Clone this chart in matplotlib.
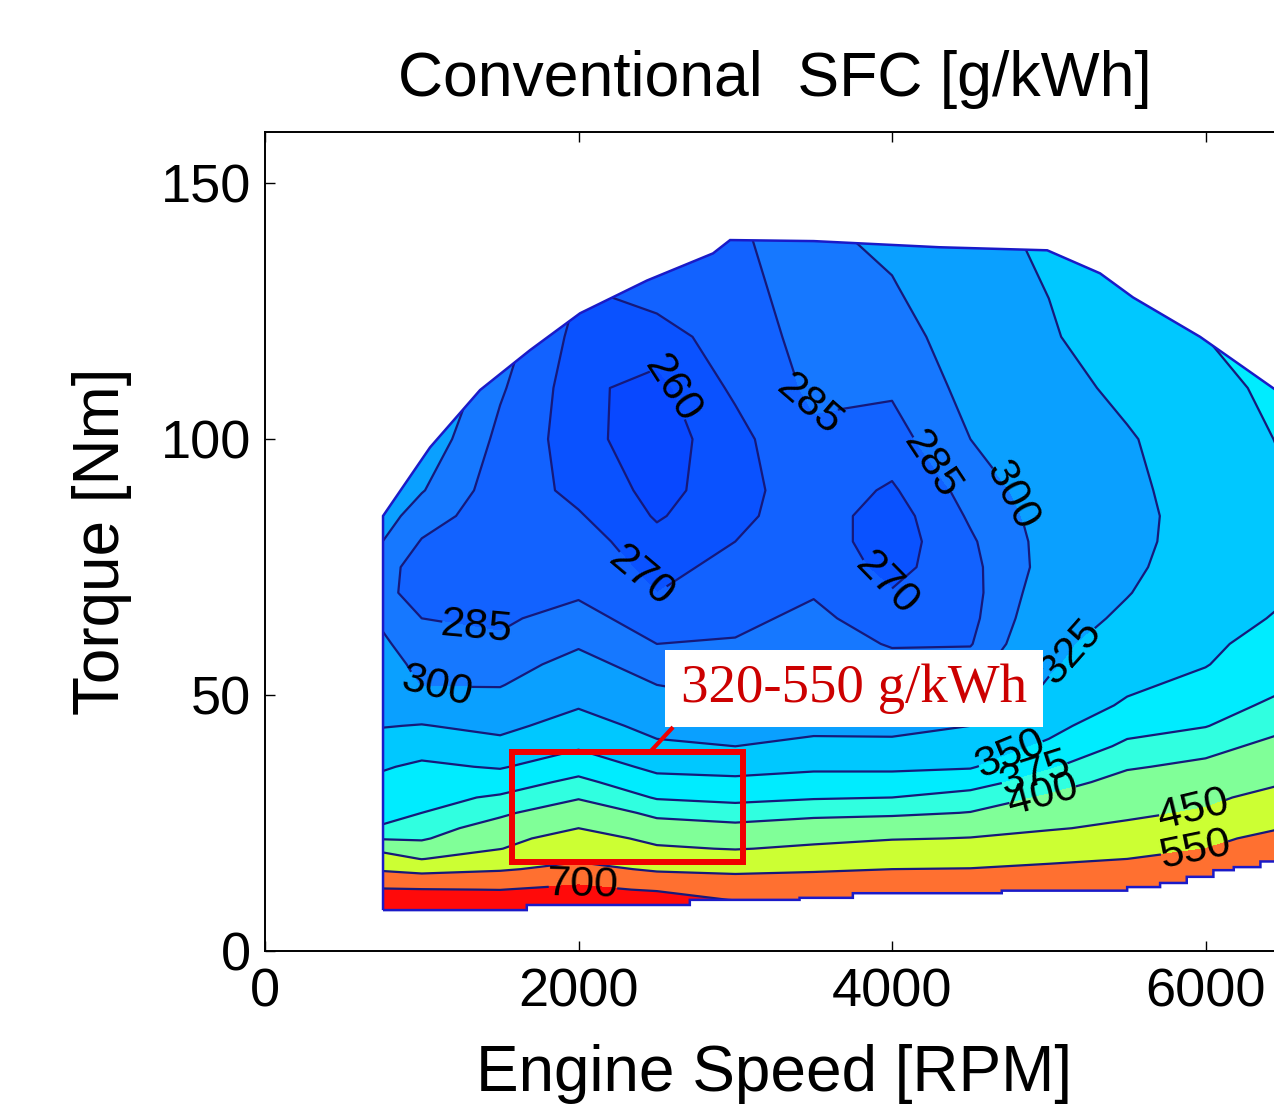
import numpy as np
import matplotlib
matplotlib.use("Agg")
import matplotlib.pyplot as plt
from matplotlib.patches import Polygon, Rectangle

plt.rcParams['font.family'] = ['Liberation Sans', 'DejaVu Sans']

# ---- data ------------------------------------------------------------------
# grid nodes: engine speed columns [RPM] and torque rows [Nm]
rpm_cols = [750, 1000, 1500, 2000, 2500, 3000, 3500, 4000, 4500, 5000, 5500, 6000, 6500]
torque_rows = [6, 8, 10, 12, 14, 16, 18, 20, 22, 24, 27, 30, 33, 36, 40, 44, 48,
               52, 56, 60, 65, 70, 75, 80, 85, 90, 100, 110, 120, 130, 140]

# SFC [g/kWh] along each speed column, bottom to top (same order as torque_rows)
sfc_750 = [1000, 820, 760, 710, 622, 534, 480, 433, 397, 377, 369, 362, 355, 348, 335, 324, 318,
           313, 308, 303, 297, 289, 291, 300, 307, 313, 320, 330, 340, 350, 360]
sfc_1000 = [1000, 820, 760, 705, 600, 513, 448, 417, 396, 387, 375, 368, 361, 354, 341, 326, 312,
            299, 295, 290, 285, 279, 278, 284, 292, 301, 312, 322, 332, 342, 352]
sfc_1500 = [1000, 830, 770, 698, 612, 538, 492, 448, 431, 414, 394, 378, 363, 348, 332, 319, 308,
            299, 293, 287, 283, 279, 276, 275, 276, 277, 281, 287, 293, 300, 305]
sfc_2000 = [1000, 850, 790, 735, 659, 584, 534, 506, 478, 450, 423, 397, 381, 365, 347, 335, 323,
            315, 306, 298, 290, 283, 279, 275, 271, 267, 263, 262, 265, 270, 275]
sfc_2500 = [1000, 880, 800, 683, 600, 535, 496, 458, 435, 415, 392, 373, 358, 344, 329, 318, 309,
            300, 292, 285, 278, 270, 266, 263, 259, 257, 255, 257, 265, 276, 286]
sfc_3000 = [1000, 900, 690, 645, 577, 526, 485, 447, 428, 408, 386, 369, 355, 342, 325, 313, 302,
            296, 291, 286, 282, 278, 274, 270, 267, 265, 266, 272, 276, 279, 282]
sfc_3500 = [1000, 900, 690, 640, 584, 537, 498, 460, 436, 416, 392, 373, 359, 346, 333, 317, 299,
            297, 294, 291, 288, 284, 281, 278, 277, 278, 282, 288, 291, 294, 297]
sfc_4000 = [1000, 900, 720, 680, 610, 550, 514, 479, 446, 423, 394, 375, 359, 346, 332, 317, 302,
            295, 289, 284, 278, 271, 265, 262, 263, 268, 279, 287, 293, 299, 304]
sfc_4500 = [1000, 900, 710, 665, 611, 553, 518, 485, 452, 431, 401, 384, 365, 348, 337, 325, 314,
            303, 292, 284, 281, 280, 281, 283, 287, 291, 300, 305, 309, 313, 317]
sfc_5000 = [1000, 900, 740, 680, 636, 572, 530, 500, 470, 445, 424, 404, 387, 372, 354, 343, 335,
            327, 322, 319, 314, 310, 306, 306, 307, 309, 313, 317, 322, 326, 330]
sfc_5500 = [1000, 900, 760, 690, 652, 601, 550, 521, 491, 462, 439, 425, 411, 397, 380, 366, 353,
            346, 341, 336, 329, 324, 321, 320, 320, 321, 323, 330, 341, 351, 360]
sfc_6000 = [1000, 950, 850, 740, 680, 652, 600, 550, 523, 497, 457, 437, 422, 407, 390, 374, 365,
            356, 349, 346, 343, 340, 336, 333, 332, 333, 337, 343, 350, 357, 364]
sfc_6500 = [1000, 1000, 950, 870, 800, 720, 670, 630, 590, 550, 510, 475, 446, 433, 411, 394, 381,
            372, 366, 359, 352, 348.5, 346.5, 345.5, 345.5, 348, 352, 356, 362, 368, 374]

# operating envelope: full-load curve and stepped minimum-load curve
top_rpm = [753, 1053, 1372, 1691, 2010, 2437, 2858, 2967, 3500, 4300, 4990, 5327, 5537, 5965, 6430, 6500]
top_torque = [85, 98.4, 109.6, 117.4, 124.6, 131, 136.3, 138.9, 138.7, 137.5, 136.9, 132.4, 127.7,
              120, 110, 108.5]
bottom_edges = [753, 1670, 2710, 3410, 3750, 4700, 5500, 5710, 5880, 6050, 6180, 6350, 6500]
bottom_torque = [8.0, 9.0, 10.0, 10.4, 11.3, 11.8, 12.5, 13.3, 14.5, 15.8, 16.4, 17.5]

# contour levels and band colours
line_levels = [260, 270, 285, 300, 325, 350, 375, 400, 450, 550, 700]
fill_levels = [0] + line_levels + [5000]
band_colors = ['#0848FF', '#0A52FF', '#1262FF', '#1678FF', '#0AA0FF', '#00C8FF',
               '#00ECFF', '#30FFE0', '#80FF98', '#CCFF33', '#FF7030', '#FF0A0A']

# contour label spots (rpm, Nm)
label_xy = [(2620, 110), (3430, 106), (4255, 95), (4760, 89), (2400, 73), (3955, 71.5),
            (1340, 62), (1097, 51), (5167, 58), (4765, 38), (4912, 34.5), (4963, 30.3),
            (5920, 27.6), (5933, 19.7), (2029, 13)]


def envelope_vertices():
    """Closed outline of the mapped region."""
    verts = [(top_rpm[0], bottom_torque[0])]
    verts += list(zip(top_rpm, top_torque))
    for i in range(len(bottom_torque) - 1, -1, -1):
        verts.append((bottom_edges[i + 1], bottom_torque[i]))
        verts.append((bottom_edges[i], bottom_torque[i]))
    return verts


fig = plt.figure(figsize=(12.74, 11.06), dpi=100)
ax = fig.add_axes([0.2080, 0.1401, 0.7998, 0.7405])

Z = np.column_stack([sfc_750, sfc_1000, sfc_1500, sfc_2000, sfc_2500, sfc_3000, sfc_3500,
                     sfc_4000, sfc_4500, sfc_5000, sfc_5500, sfc_6000, sfc_6500])

cf = ax.contourf(rpm_cols, torque_rows, Z, levels=fill_levels, colors=band_colors)
cl = ax.contour(rpm_cols, torque_rows, Z, levels=line_levels, colors='#16197a', linewidths=1.6)

verts = envelope_vertices()
clip = Polygon(verts, closed=True, transform=ax.transData, facecolor='none', edgecolor='none')
cf.set_clip_path(clip)
cl.set_clip_path(clip)
ax.add_patch(Polygon(verts, closed=True, fill=False, edgecolor='#1a1ac8', lw=1.8, zorder=3))

ax.clabel(cl, manual=label_xy, fmt='%d', fontsize=31, colors='k', inline=True, inline_spacing=3)

# annotation
ax.add_patch(Rectangle((2552, 43.75), 2411, 15.05, facecolor='white', edgecolor='none', zorder=5))
ax.text(3757, 51.2, '320-550 g/kWh', ha='center', va='center', fontsize=39.5,
        family='Liberation Serif', color='#CC0000', zorder=6)
ax.add_patch(Rectangle((1576, 17.4), 1473, 21.5, fill=False, edgecolor='#F00000', lw=4.3, zorder=6))
ax.plot([2456, 2603], [38.9, 43.75], color='#F00000', lw=3, zorder=6, solid_capstyle='butt')

ax.set_xlim(0, 6500)
ax.set_ylim(0, 160)
ax.set_xticks([0, 2000, 4000, 6000])
ax.set_yticks([0, 50, 100, 150])
ax.tick_params(direction='in', top=True, right=True, length=7, width=1, labelsize=39)
ax.tick_params(axis='x', pad=12)
ax.tick_params(axis='y', pad=10)
for s in ax.spines.values():
    s.set_linewidth(1.4)

ax.set_title('Conventional  SFC [g/kWh]', fontsize=45, pad=26)
ax.set_xlabel('Engine Speed [RPM]', fontsize=46)
ax.set_ylabel('Torque [Nm]', fontsize=46)
ax.xaxis.set_label_coords(0.5, -0.113)
ax.yaxis.set_label_coords(-0.1305, 0.5)

fig.savefig('out.png', dpi=100)
